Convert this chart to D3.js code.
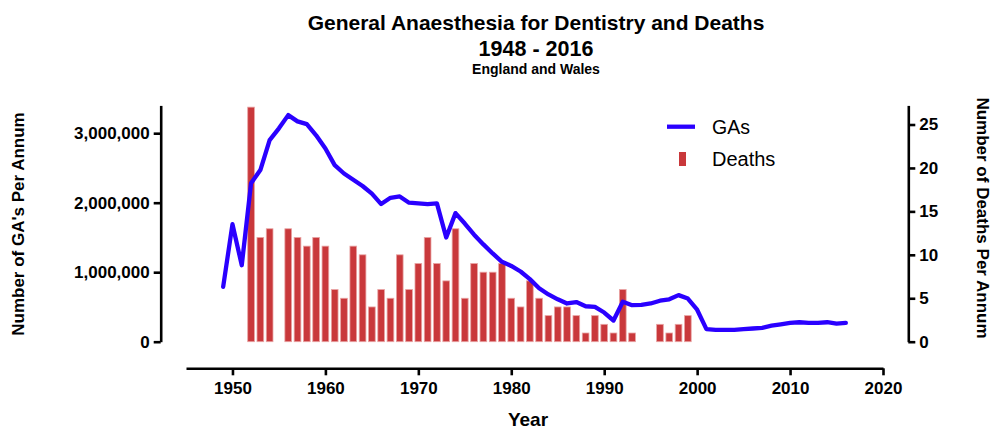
<!DOCTYPE html>
<html>
<head>
<meta charset="utf-8">
<script src="https://cdnjs.cloudflare.com/ajax/libs/d3/7.8.5/d3.min.js"></script>
<style>
  html, body { margin: 0; padding: 0; background: #fff; }
  svg { display: block; font-family: "Liberation Sans", Arial, sans-serif; }
</style>
</head>
<body>
<svg id="chart" width="994" height="431"></svg>
<script>
// General anaesthetics given for dentistry per year (England and Wales)
const gaYears = [1949,1950,1951,1952,1953,1954,1955,1956,1957,1958,1959,1960,1961,1962,1963,1964,1965,1966,1967,1968,1969,1970,1971,1972,1973,1974,1975,1976,1977,1978,1979,1980,1981,1982,1983,1984,1985,1986,1987,1988,1989,1990,1991,1992,1993,1994,1995,1996,1997,1998,1999,2000,2001,2002,2003,2004,2005,2006,2007,2008,2009,2010,2011,2012,2013,2014,2015,2016];
const gaValues = [790000,1690000,1100000,2280000,2470000,2900000,3070000,3260000,3170000,3130000,2970000,2780000,2540000,2420000,2330000,2240000,2130000,1980000,2070000,2090000,2000000,1990000,1980000,1990000,1500000,1850000,1700000,1540000,1400000,1270000,1150000,1090000,1010000,900000,770000,680000,610000,550000,570000,510000,500000,420000,305000,575000,525000,530000,550000,590000,610000,670000,620000,460000,180000,170000,170000,170000,180000,190000,200000,230000,250000,270000,280000,270000,270000,280000,260000,270000];

// Deaths associated with dental general anaesthesia per year
const deathYears = [1952,1953,1954,1956,1957,1958,1959,1960,1961,1962,1963,1964,1965,1966,1967,1968,1969,1970,1971,1972,1973,1974,1975,1976,1977,1978,1979,1980,1981,1982,1983,1984,1985,1986,1987,1988,1989,1990,1991,1992,1993,1996,1997,1998,1999];
const deathValues = [27,12,13,13,12,11,12,11,6,5,11,10,4,6,5,10,6,9,12,9,7,13,5,9,8,8,9,5,4,7,5,3,4,4,3,1,3,2,1,6,1,2,1,2,3];

const xTicks = [1950,1960,1970,1980,1990,2000,2010,2020];
const gaTicks = [0,1000000,2000000,3000000];
const deathTicks = [0,5,10,15,20,25];

const svg = d3.select("#chart");

const x = d3.scaleLinear().domain([1945, 2020]).range([186, 883]);
const yGA = d3.scaleLinear().domain([0, 3400000]).range([341.7, 105.4]);
const yDeaths = d3.scaleLinear().domain([0, 27.2]).range([341.7, 105.4]);

const barW = 6.7;

// Deaths bars (right axis)
svg.append("g")
  .selectAll("rect")
  .data(deathYears.map((yr, i) => ({ yr, v: deathValues[i] })))
  .join("rect")
  .attr("x", d => x(d.yr) - barW / 2)
  .attr("width", barW)
  .attr("y", d => yDeaths(d.v))
  .attr("height", d => yDeaths(0) - yDeaths(d.v))
  .attr("fill", "#c9383b")
  .attr("stroke", "#e9a4a4")
  .attr("stroke-width", 0.8);

// GA line (left axis)
const line = d3.line()
  .x((d, i) => x(gaYears[i]))
  .y(d => yGA(d));

svg.append("path")
  .datum(gaValues)
  .attr("d", line)
  .attr("fill", "none")
  .attr("stroke", "#2a00ff")
  .attr("stroke-width", 4.3)
  .attr("stroke-linejoin", "round")
  .attr("stroke-linecap", "round");

// Axes
function styleAxis(g) {
  g.selectAll(".domain").attr("stroke", "#000").attr("stroke-width", 2.6);
  g.selectAll(".tick line").attr("stroke", "#000").attr("stroke-width", 2.6);
  g.selectAll(".tick text")
    .attr("fill", "#000")
    .style("font-size", "17px")
    .style("font-weight", "bold");
}

svg.append("g")
  .attr("transform", "translate(0,368.3)")
  .call(d3.axisBottom(x).tickValues(xTicks).tickFormat(d3.format("d")).tickSize(7).tickSizeOuter(0).tickPadding(7))
  .call(styleAxis);

svg.append("g")
  .attr("transform", "translate(160.7,0)")
  .call(d3.axisLeft(yGA).tickValues(gaTicks).tickFormat(d3.format(",")).tickSize(7).tickSizeOuter(0).tickPadding(4))
  .call(styleAxis);

svg.append("g")
  .attr("transform", "translate(908.3,0)")
  .call(d3.axisRight(yDeaths).tickValues(deathTicks).tickFormat(d3.format("d")).tickSize(7).tickSizeOuter(0).tickPadding(4))
  .call(styleAxis);

// Titles
const titles = svg.append("g").attr("text-anchor", "middle").attr("fill", "#000").style("font-weight", "bold");
titles.append("text").attr("x", 536).attr("y", 30).style("font-size", "21px")
  .text("General Anaesthesia for Dentistry and Deaths");
titles.append("text").attr("x", 536).attr("y", 55.5).style("font-size", "21.5px")
  .text("1948 - 2016");
titles.append("text").attr("x", 536).attr("y", 74).style("font-size", "14px")
  .text("England and Wales");

titles.append("text").attr("x", 528).attr("y", 426).style("font-size", "19px").text("Year");

titles.append("text")
  .attr("transform", "translate(24,224) rotate(-90)")
  .style("font-size", "17px")
  .text("Number of GA's Per Annum");

titles.append("text")
  .attr("transform", "translate(977,218) rotate(90)")
  .style("font-size", "17px")
  .text("Number of Deaths Per Annum");

// Legend
const legend = svg.append("g");
legend.append("line")
  .attr("x1", 667).attr("x2", 695).attr("y1", 126.7).attr("y2", 126.7)
  .attr("stroke", "#2a00ff").attr("stroke-width", 4.3);
legend.append("rect")
  .attr("x", 679).attr("y", 152).attr("width", 7).attr("height", 14)
  .attr("fill", "#c9383b");
legend.append("text").attr("x", 712).attr("y", 134).style("font-size", "19.5px").attr("fill", "#000").text("GAs");
legend.append("text").attr("x", 712).attr("y", 165.5).style("font-size", "20px").attr("fill", "#000").text("Deaths");
</script>
</body>
</html>
